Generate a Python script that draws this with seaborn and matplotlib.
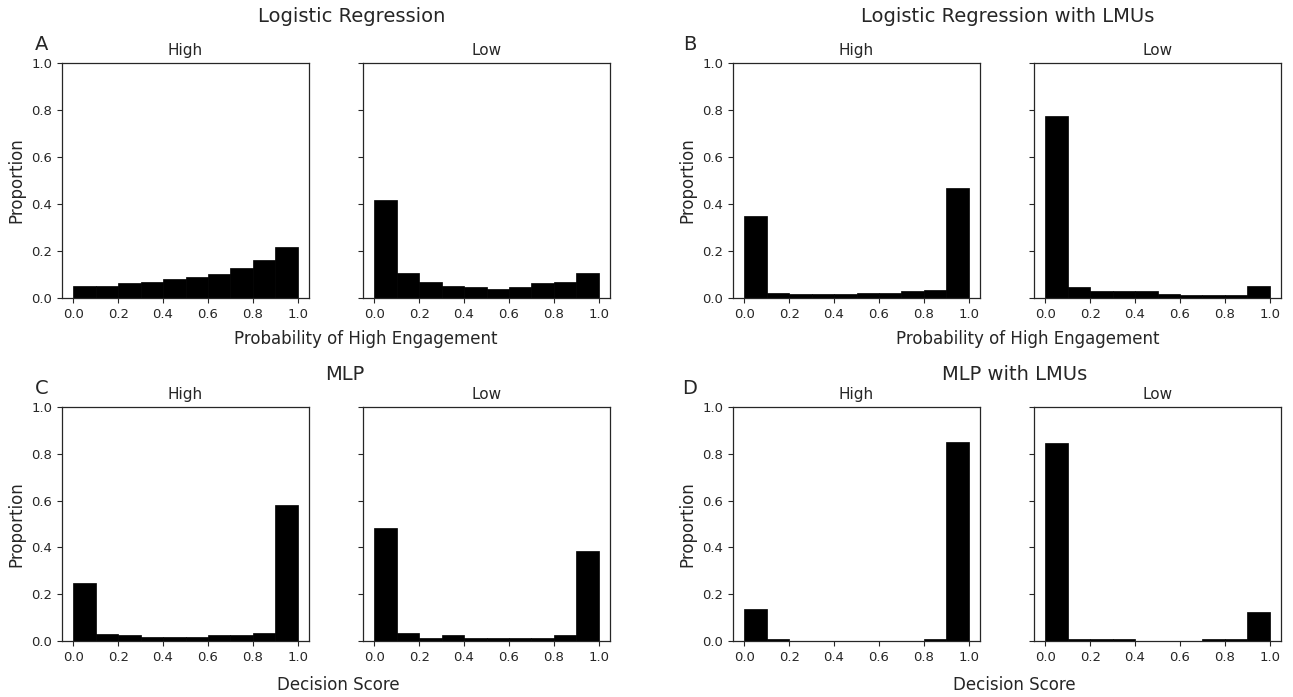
import numpy as np
import pandas as pd
import matplotlib
matplotlib.use("Agg")
import matplotlib.pyplot as plt
import seaborn as sns

sns.set_style("ticks")
plt.rcParams['font.family'] = ['DejaVu Sans']

bin_edges = [0.0, 0.1, 0.2, 0.3, 0.4, 0.5, 0.6, 0.7, 0.8, 0.9, 1.0]
bin_centers = [0.05, 0.15, 0.25, 0.35, 0.45, 0.55, 0.65, 0.75, 0.85, 0.95]
groups = ["High", "Low"]

lr_high = [0.052, 0.052, 0.062, 0.068, 0.079, 0.091, 0.102, 0.129, 0.163, 0.217]
lr_low = [0.417, 0.106, 0.068, 0.051, 0.047, 0.040, 0.047, 0.062, 0.068, 0.106]
lrlmu_high = [0.350, 0.023, 0.017, 0.017, 0.017, 0.023, 0.023, 0.028, 0.034, 0.467]
lrlmu_low = [0.773, 0.045, 0.028, 0.028, 0.028, 0.017, 0.011, 0.011, 0.011, 0.051]
mlp_high = [0.247, 0.030, 0.024, 0.018, 0.018, 0.018, 0.024, 0.024, 0.035, 0.580]
mlp_low = [0.485, 0.035, 0.013, 0.024, 0.013, 0.013, 0.013, 0.013, 0.024, 0.384]
mlplmu_high = [0.136, 0.007, 0.0, 0.0, 0.0, 0.0, 0.0, 0.0, 0.007, 0.851]
mlplmu_low = [0.845, 0.007, 0.007, 0.007, 0.0, 0.0, 0.0, 0.007, 0.007, 0.123]

panel_titles = ["Logistic Regression", "Logistic Regression with LMUs", "MLP", "MLP with LMUs"]
panel_letters = ["A", "B", "C", "D"]
x_labels = ["Probability of High Engagement", "Probability of High Engagement",
            "Decision Score", "Decision Score"]
panel_data = [(lr_high, lr_low), (lrlmu_high, lrlmu_low),
              (mlp_high, mlp_low), (mlplmu_high, mlplmu_low)]

W, H = 1293, 697
fig = plt.figure(figsize=(W / 100, H / 100), dpi=100)

def px_axes(x0, x1, y0, y1):
    return fig.add_axes([x0 / W, 1 - y1 / H, (x1 - x0) / W, (y1 - y0) / H])

col_lefts = [(62, 309, 363, 610), (733, 980, 1034, 1281)]
row_tb = [(63, 298), (407, 641)]
title_pos = [(352, 17), (1008, 17), (345, 375), (1015, 375)]
xlabel_pos = [(366, 339), (1028, 339), (338, 685), (1014, 685)]
letter_pos = [(42, 45), (690, 45), (42, 388), (690, 388)]

for p in range(4):
    r, c = divmod(p, 2)
    a0, a1, b0, b1 = col_lefts[c]
    t, b = row_tb[r]
    ax1 = px_axes(a0, a1, t, b)
    ax2 = px_axes(b0, b1, t, b)
    for ax, name, vals in zip((ax1, ax2), groups, panel_data[p]):
        df = pd.DataFrame({"x": bin_centers, "w": vals})
        sns.histplot(data=df, x="x", weights="w", bins=bin_edges, ax=ax,
                     color="black", alpha=1, edgecolor="black", linewidth=0.5)
        ax.set_ylim(0, 1.0)
        ax.set_xlim(-0.05, 1.05)
        ax.set_xticks([0.0, 0.2, 0.4, 0.6, 0.8, 1.0])
        ax.set_yticks([0.0, 0.2, 0.4, 0.6, 0.8, 1.0])
        ax.set_title(name, fontsize=11, pad=6)
        ax.set_xlabel("")
        ax.tick_params(labelsize=9.5, length=3.5, colors="#262626")
        for s in ax.spines.values():
            s.set_color("#262626")
            s.set_linewidth(0.9)
    ax1.set_ylabel("Proportion", fontsize=12)
    ax2.set_ylabel("")
    ax2.set_yticklabels([])
    fig.text(title_pos[p][0] / W, 1 - title_pos[p][1] / H, panel_titles[p],
             ha="center", va="center", fontsize=14)
    fig.text(xlabel_pos[p][0] / W, 1 - xlabel_pos[p][1] / H, x_labels[p],
             ha="center", va="center", fontsize=12)
    fig.text(letter_pos[p][0] / W, 1 - letter_pos[p][1] / H, panel_letters[p],
             ha="center", va="center", fontsize=14)

fig.savefig("out.png", dpi=100, facecolor="white")
